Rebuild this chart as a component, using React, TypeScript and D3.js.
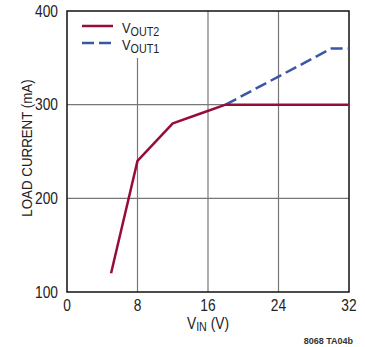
import React from "react";
import * as d3 from "d3";

const xTicks = [0, 8, 16, 24, 32];
const yTicks = [100, 200, 300, 400];
const vout2 = [
  { x: 5, y: 120 },
  { x: 8, y: 240 },
  { x: 12, y: 280 },
  { x: 15, y: 290 },
  { x: 18, y: 300 },
  { x: 32, y: 300 },
];
const vout1 = [
  { x: 18, y: 300 },
  { x: 30, y: 360 },
  { x: 32, y: 360 },
];

const RED = "#970d3a";
const BLUE = "#3a57a7";
const FONT = "'Liberation Sans Narrow', 'Liberation Sans', Arial, sans-serif";

function NText({ x, y, anchor = "start", size = 15, children, sx = 0.86 }: any) {
  return (
    <g transform={`translate(${x},${y}) scale(${sx},1)`}>
      <text x={0} y={0} textAnchor={anchor} fontFamily={FONT} fontSize={size} fill="#222">{children}</text>
    </g>
  );
}

export default function App() {
  const W = 365, H = 347;
  const L = 67, R = 349, T = 11, B = 292;
  const x = d3.scaleLinear().domain([0, 32]).range([L, R]);
  const y = d3.scaleLinear().domain([100, 400]).range([B, T]);
  const line = d3.line<{ x: number; y: number }>().x(d => x(d.x)).y(d => y(d.y));
  return (
    <svg width={W} height={H} style={{ position: "absolute", left: 0, top: 0, background: "#fff" }}>
      {/* grid */}
      {xTicks.slice(1, -1).map(t => (
        <line key={"gx" + t} x1={x(t)} x2={x(t)} y1={t === 8 ? 58 : T} y2={B} stroke="#777" strokeWidth={1.2} />
      ))}
      {yTicks.slice(1, -1).map(t => (
        <line key={"gy" + t} x1={L} x2={R} y1={y(t)} y2={y(t)} stroke="#777" strokeWidth={1.2} />
      ))}
      {/* frame */}
      <rect x={L} y={T} width={R - L} height={B - T} fill="none" stroke="#111" strokeWidth={1.5} />
      {/* data */}
      <path d={line(vout1) || ""} fill="none" stroke={BLUE} strokeWidth={2.5} strokeDasharray="12,5" />
      <path d={line(vout2) || ""} fill="none" stroke={RED} strokeWidth={2.5} strokeLinejoin="round" />
      {/* legend */}
      <line x1={82} x2={113} y1={26} y2={26} stroke={RED} strokeWidth={2.5} />
      <line x1={82} x2={113} y1={43} y2={43} stroke={BLUE} strokeWidth={2.5} strokeDasharray="12,5" />
      <NText x={122} y={33} size={15}>
        V<tspan fontSize={12.5} dy={3}>OUT2</tspan>
      </NText>
      <NText x={122} y={50} size={15}>
        V<tspan fontSize={12.5} dy={3}>OUT1</tspan>
      </NText>
      {/* y ticks */}
      {yTicks.map(t => (
        <NText key={"yt" + t} x={58} y={y(t) + 5.5} anchor="end" size={16}>{t}</NText>
      ))}
      {xTicks.map(t => (
        <NText key={"xt" + t} x={x(t)} y={311} anchor="middle" size={16}>{t}</NText>
      ))}
      <NText x={208} y={329} anchor="middle" size={16}>
        V<tspan fontSize={12.5} dy={2}>IN</tspan><tspan dy={-2}> (V)</tspan>
      </NText>
      <g transform={`translate(32,148) rotate(-90) scale(0.86,1)`}>
        <text x={0} y={0} textAnchor="middle" fontFamily={FONT} fontSize={15.5} fill="#222">LOAD CURRENT (mA)</text>
      </g>
      <text x={353} y={344} textAnchor="end" fontFamily={FONT} fontSize={9} fontWeight="bold" fill="#333">8068 TA04b</text>
    </svg>
  );
}
